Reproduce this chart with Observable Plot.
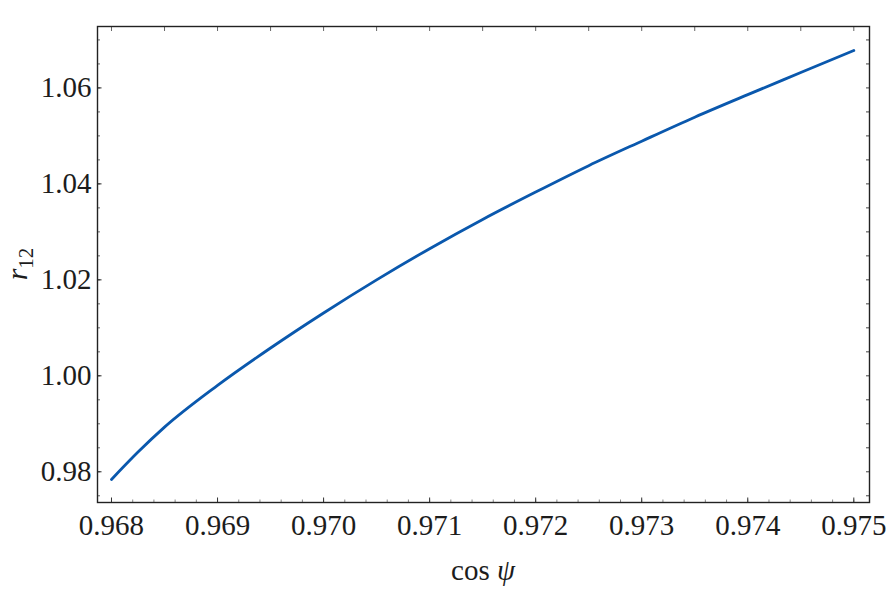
<!DOCTYPE html>
<html>
<head>
<meta charset="utf-8">
<script src="https://cdn.jsdelivr.net/npm/d3@7"></script>
<script src="https://cdn.jsdelivr.net/npm/@observablehq/plot@0.6"></script>
<style>
  html, body { margin: 0; padding: 0; background: #fff; }
  #chart { width: 891px; height: 603px; }
  #chart svg, #chart svg text { font-family: "Liberation Serif", "Times New Roman", serif !important; }
</style>
</head>
<body>
<div id="chart"></div>
<script>
// x: cos ψ, y: r12
const cosPsi = [0.96800, 0.96825, 0.96850, 0.96900, 0.96950, 0.97000, 0.97050, 0.97100,
                0.97150, 0.97200, 0.97250, 0.97300, 0.97350, 0.97400, 0.97450, 0.97500];
const r12 =    [0.9784, 0.9841, 0.9893, 0.9980, 1.0058, 1.0131, 1.0200, 1.0265,
                1.0326, 1.0383, 1.0438, 1.0489, 1.0539, 1.0586, 1.0632, 1.0678];

const xTickLabels = [0.968, 0.969, 0.970, 0.971, 0.972, 0.973, 0.974, 0.975];
const yTickLabels = [0.98, 1.00, 1.02, 1.04, 1.06];

const xDomain = [0.967868, 0.975148];
const yDomain = [0.9736, 1.0728];

const xMinorBottom = d3.range(0, 37).map(i => +(0.9680 + i * 0.0002).toFixed(4)).filter(v => v <= xDomain[1]);
const xMinorTop = d3.range(0, 15).map(i => +(0.9680 + i * 0.0005).toFixed(4));
const yMinor = d3.range(-1, 19).map(i => +(0.98 + i * 0.005).toFixed(3)).filter(v => v >= yDomain[0] && v <= yDomain[1]);

const data = cosPsi.map((x, i) => ({x, y: r12[i]}));

const serif = "Liberation Serif, Times New Roman, serif";
const ink = "#1c1c1c";

const plot = Plot.plot({
  width: 891,
  height: 603,
  marginLeft: 97,
  marginRight: 22,
  marginTop: 26,
  marginBottom: 101,
  style: {background: "#fff"},
  x: {domain: xDomain},
  y: {domain: yDomain},
  marks: [
    // tick labels
    Plot.axisX({ticks: xTickLabels, tickSize: 0, tickPadding: 12, tickFormat: d3.format(".3f"),
                fontSize: 29, fill: ink, label: null}),
    Plot.axisY({ticks: yTickLabels, tickSize: 0, tickPadding: 6, tickFormat: d3.format(".2f"),
                fontSize: 29, fill: ink, label: null}),
    // inward ticks: bottom
    Plot.axisX({anchor: "bottom", ticks: xMinorBottom, tickSize: 2.5, dy: -2.5, tickFormat: () => "",
                stroke: "#888", label: null}),
    Plot.axisX({anchor: "bottom", ticks: xTickLabels, tickSize: 4.5, dy: -4.5, tickFormat: () => "",
                stroke: "#333", label: null}),
    // top
    Plot.axisX({anchor: "top", ticks: xMinorTop, tickSize: 4, dy: 4, tickFormat: () => "",
                stroke: "#666", label: null}),
    // left
    Plot.axisY({anchor: "left", ticks: yMinor, tickSize: 3, dx: 3, tickFormat: () => "",
                stroke: "#666", label: null}),
    Plot.axisY({anchor: "left", ticks: yTickLabels, tickSize: 4.5, dx: 4.5, tickFormat: () => "",
                stroke: "#222", label: null}),
    // right
    Plot.axisY({anchor: "right", ticks: yMinor, tickSize: 4, dx: -4, tickFormat: () => "",
                stroke: "#444", label: null}),
    Plot.frame({stroke: "#222", strokeWidth: 1.4}),
    Plot.line(data, {x: "x", y: "y", stroke: "#0a58ad", strokeWidth: 2.8, curve: "monotone-x"})
  ]
});

document.getElementById("chart").appendChild(plot);

// axis titles with italic symbols
const svg = d3.select(plot);
const xt = svg.append("text")
  .attr("x", 483).attr("y", 580)
  .attr("text-anchor", "middle")
  .attr("font-family", serif).attr("font-size", 29).attr("fill", ink);
xt.append("tspan").text("cos ");
xt.append("tspan").attr("font-style", "italic").text("ψ");

const yt = svg.append("text")
  .attr("transform", "translate(27,264) rotate(-90)")
  .attr("text-anchor", "middle")
  .attr("font-family", serif).attr("font-size", 30).attr("fill", ink);
yt.append("tspan").attr("font-style", "italic").text("r");
yt.append("tspan").attr("font-size", 21).attr("dy", 6).text("12");
</script>
</body>
</html>
